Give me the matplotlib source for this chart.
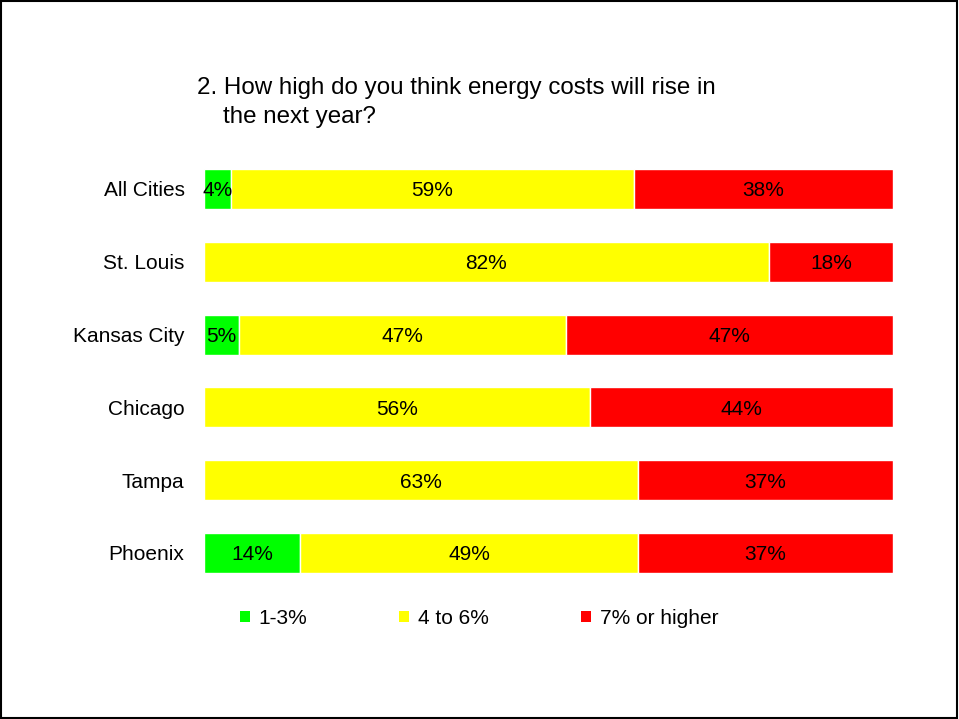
import numpy as np
import matplotlib.pyplot as plt
from matplotlib.patches import Patch, Rectangle

plt.rcParams['font.family'] = ['Liberation Sans', 'DejaVu Sans']

# Données (pourcentages affichés)
villes = ["All Cities", "St. Louis", "Kansas City", "Chicago", "Tampa", "Phoenix"]
bas = [4, 0, 5, 0, 0, 14]          # 1-3%
moyen = [59, 82, 47, 56, 63, 49]   # 4 to 6%
haut = [38, 18, 47, 44, 37, 37]    # 7% or higher

series = ["1-3%", "4 to 6%", "7% or higher"]
couleurs = ["#00FF00", "#FFFF00", "#FF0000"]

valeurs = np.array([bas, moyen, haut], dtype=float)
total = valeurs.sum(axis=0)
parts = valeurs / total * 100  # barres empilées à 100 %

fig = plt.figure(figsize=(9.59, 7.19), dpi=100)
ax = fig.add_axes([0.2127, 0.1803, 0.7185, 0.6075])

y = np.arange(len(villes))
gauche = np.zeros(len(villes))
for i in range(3):
    ax.barh(y, parts[i], left=gauche, height=0.55, color=couleurs[i],
            edgecolor="white", linewidth=1)
    for j in range(len(villes)):
        if valeurs[i, j] > 0:
            ax.text(gauche[j] + parts[i, j] / 2, y[j], f"{int(valeurs[i, j])}%",
                    ha="center", va="center_baseline", fontsize=15, color="black")
    gauche += parts[i]

ax.set_xlim(0, 100)
ax.set_ylim(len(villes) - 0.5, -0.5)
ax.set_yticks(y)
ax.set_yticklabels(villes, fontsize=15)
ax.tick_params(axis="y", length=0, pad=14)
ax.set_xticks([])
for s in ax.spines.values():
    s.set_visible(False)

# Titre sur deux lignes
fig.text(0.2055, 0.8693, "2. How high do you think energy costs will rise in",
         fontsize=17.4, va="baseline", ha="left")
fig.text(0.2325, 0.8289, "the next year?", fontsize=17.4, va="baseline", ha="left")

# Légende
poignees = [Patch(facecolor=c, edgecolor="none") for c in couleurs]
fig.legend(poignees, series, loc="center left", bbox_to_anchor=(0.250, 0.140),
           ncol=3, frameon=False, fontsize=15, handlelength=0.48, handleheight=0.48,
           handletextpad=0.43, columnspacing=4.4, borderpad=0, borderaxespad=0)

# Cadre autour de la figure
fig.patches.append(Rectangle((0.001, 0.002), 0.997, 0.996, transform=fig.transFigure,
                             fill=False, edgecolor="black", linewidth=1.5))

plt.savefig("out.png", dpi=100)
